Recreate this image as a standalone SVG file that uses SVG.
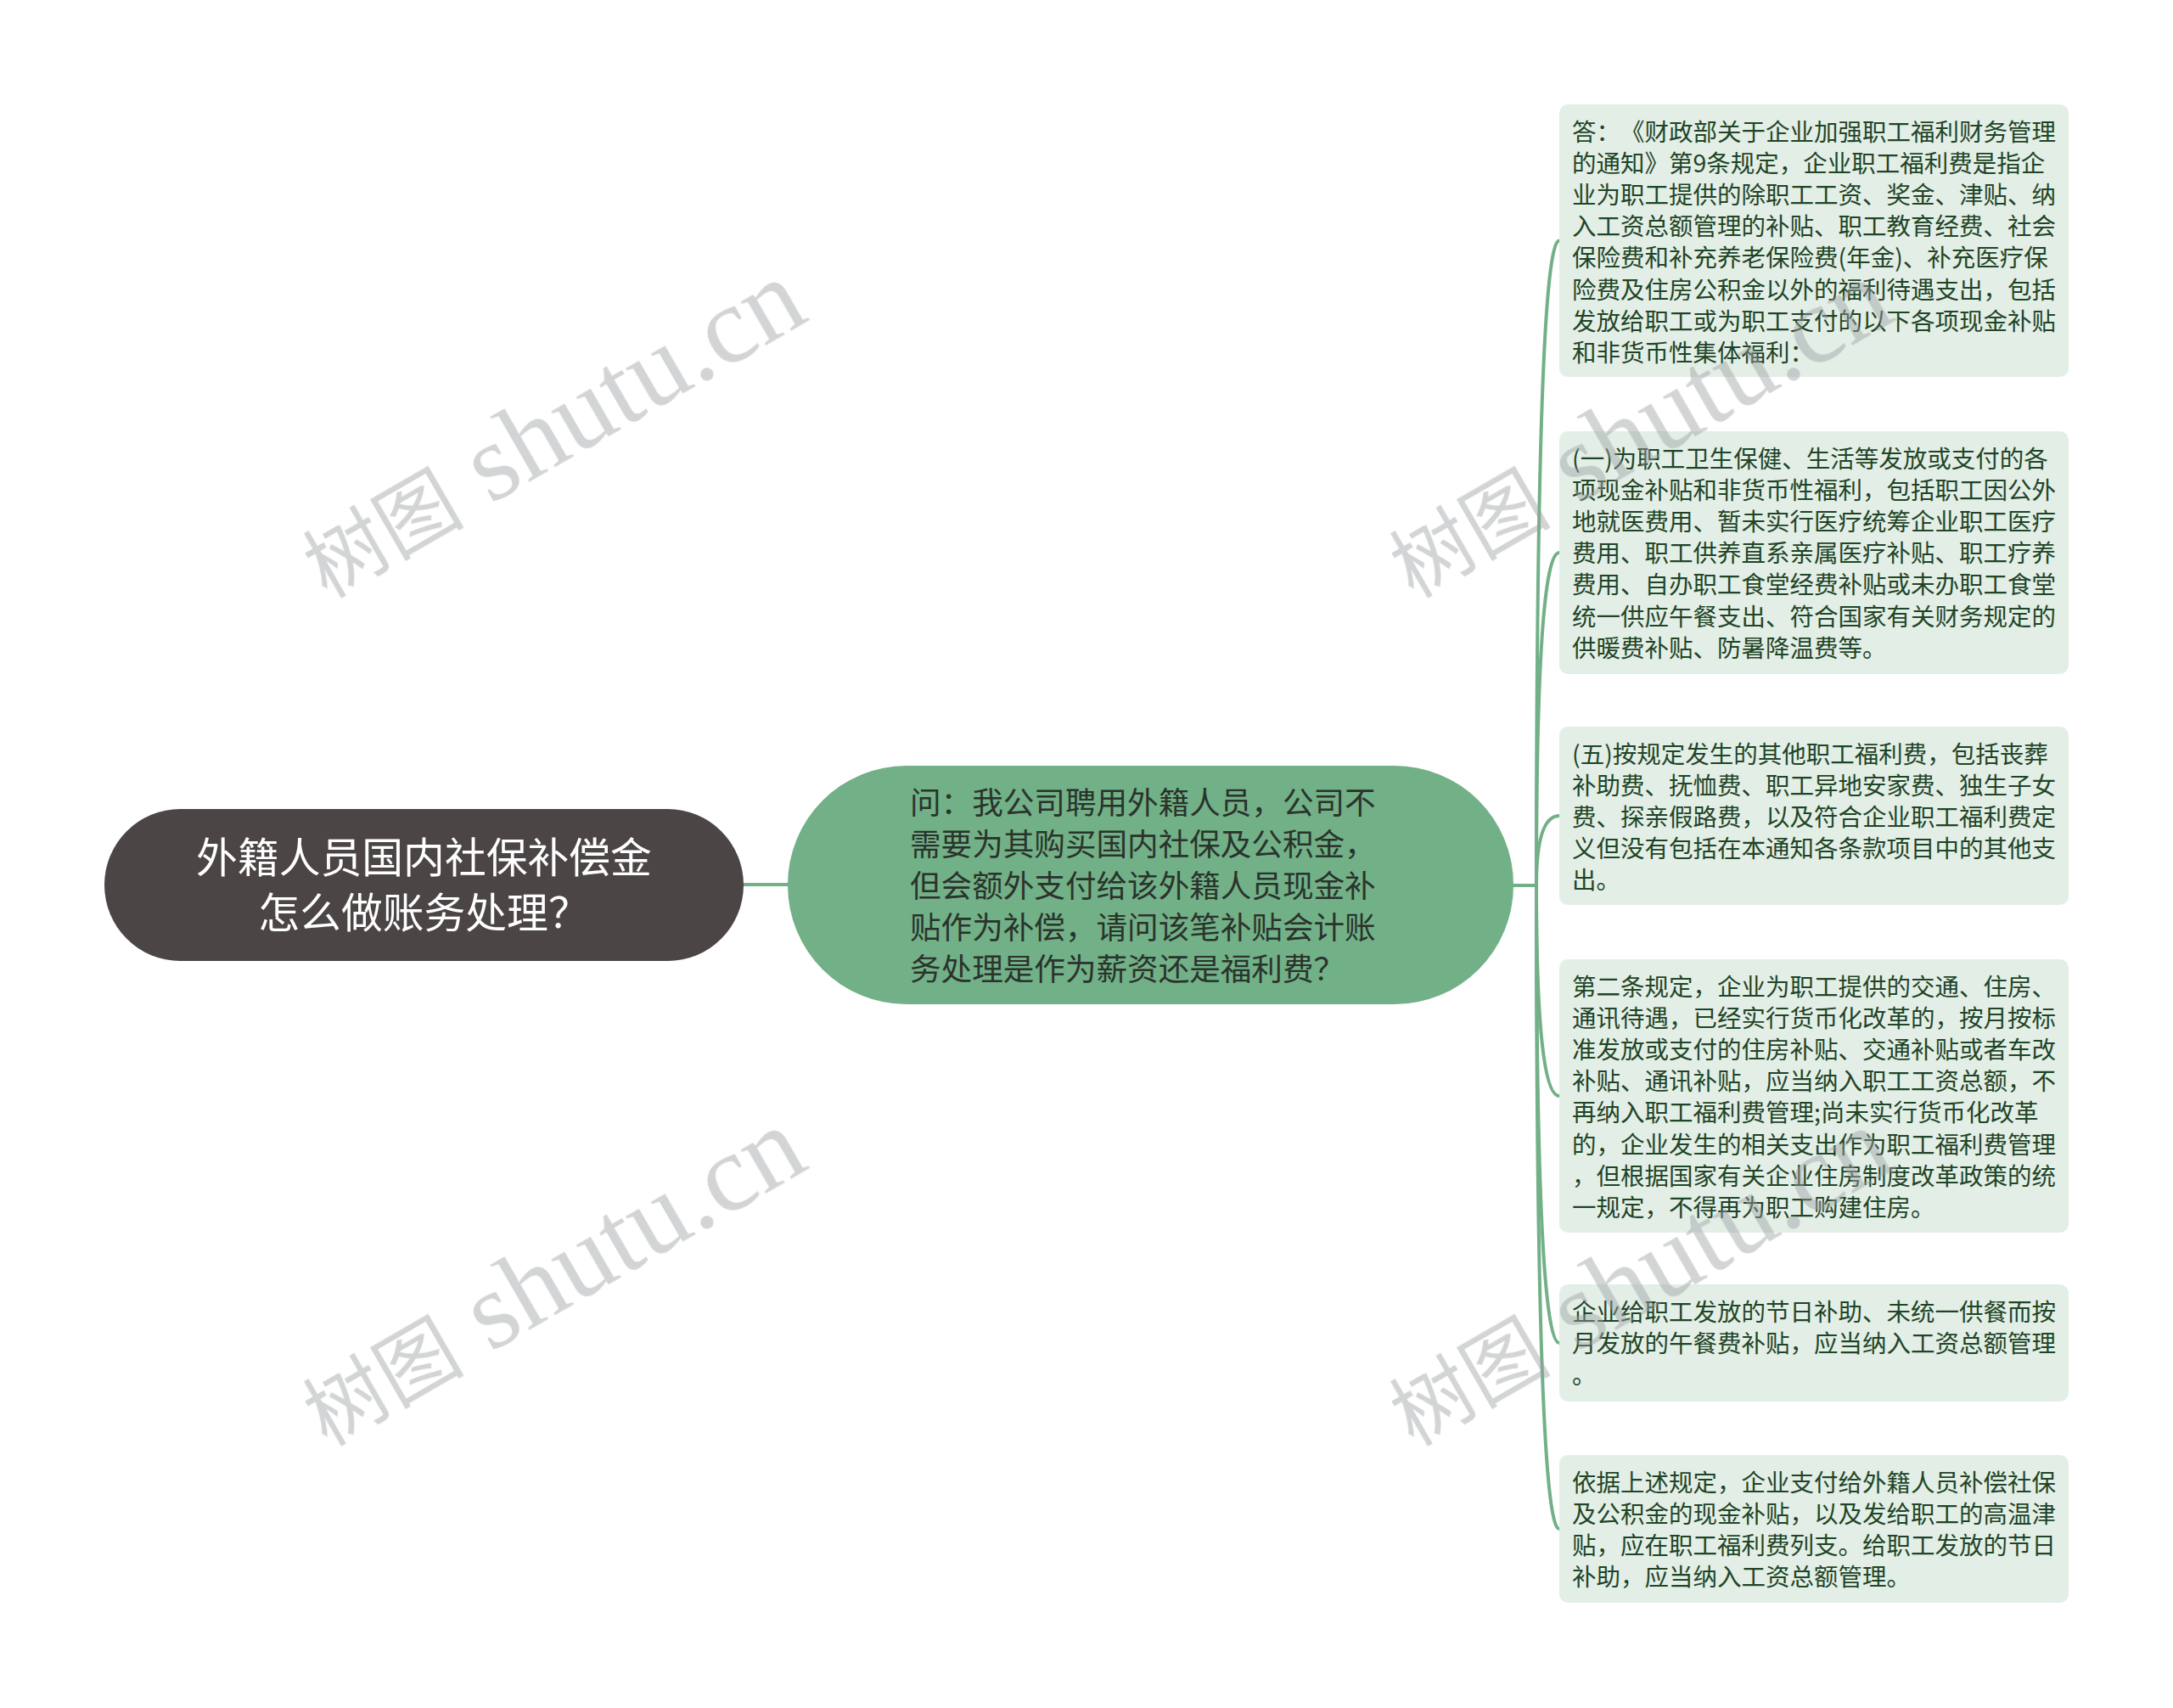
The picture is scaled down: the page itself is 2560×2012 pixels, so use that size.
<svg xmlns="http://www.w3.org/2000/svg" width="2560" height="2012" viewBox="0 0 2560 2012">
<style>
text{text-spacing-trim:space-all}
.bg{fill:#ffffff}
.conn{fill:none;stroke:#72b087;stroke-width:4;stroke-linecap:round}
.root-shape{fill:#4b4545}
.root-text{font-family:"Noto Sans CJK SC","Noto Sans",sans-serif;font-size:48.8px;fill:#ffffff;text-anchor:middle}
.q-shape{fill:#72b087}
.q-text{font-family:"Noto Sans CJK SC","Noto Sans",sans-serif;font-size:36.6px;fill:#2a332c}
.box{fill:#e3eee6}
.box-text{font-family:"Noto Sans CJK SC","Noto Sans",sans-serif;font-size:28.5px;fill:#1f4527}
.wm{fill:#9aa0a3;opacity:0.45}
.wm-cjk{font-family:"Noto Sans CJK SC",sans-serif;font-size:95px}
.wm-lat{font-family:"Liberation Serif",serif;font-size:130px}
</style>
<rect class="bg" x="0" y="0" width="2560" height="2012"/>

<g id="connectors">
  <path class="conn" d="M875 1042 H930"/>
  <path class="conn" d="M1781 1043 H1810"/>
  <path class="conn" d="M1810 1043 Q1810 283.5 1837 283.5"/>
  <path class="conn" d="M1810 1043 Q1810 651 1837 651"/>
  <path class="conn" d="M1810 1043 Q1810 961 1837 961"/>
  <path class="conn" d="M1810 1043 Q1810 1291 1837 1291"/>
  <path class="conn" d="M1810 1043 Q1810 1582 1837 1582"/>
  <path class="conn" d="M1810 1043 Q1810 1801 1837 1801"/>
</g>

<g id="root">
  <rect class="root-shape" x="123" y="953" width="753" height="179" rx="89.5" ry="89.5"/>
  <text class="root-text" x="499.5" y="1028">外籍人员国内社保补偿金</text>
  <text class="root-text" x="499.5" y="1093">怎么做账务处理？</text>
</g>

<g id="question">
  <rect class="q-shape" x="928" y="902" width="855" height="281" rx="140" ry="140"/>
  <text class="q-text" x="1072" y="959">问：我公司聘用外籍人员，公司不</text>
  <text class="q-text" x="1072" y="1008">需要为其购买国内社保及公积金，</text>
  <text class="q-text" x="1072" y="1057">但会额外支付给该外籍人员现金补</text>
  <text class="q-text" x="1072" y="1106">贴作为补偿，请问该笔补贴会计账</text>
  <text class="q-text" x="1072" y="1155">务处理是作为薪资还是福利费？</text>
</g>

<g id="box1">
  <rect class="box" x="1837" y="123" width="600" height="321" rx="10"/>
  <text class="box-text" x="1852" y="166">答：《财政部关于企业加强职工福利财务管理</text>
  <text class="box-text" x="1852" y="203.1">的通知》第9条规定，企业职工福利费是指企</text>
  <text class="box-text" x="1852" y="240.2">业为职工提供的除职工工资、奖金、津贴、纳</text>
  <text class="box-text" x="1852" y="277.3">入工资总额管理的补贴、职工教育经费、社会</text>
  <text class="box-text" x="1852" y="314.4">保险费和补充养老保险费(年金)、补充医疗保</text>
  <text class="box-text" x="1852" y="351.5">险费及住房公积金以外的福利待遇支出，包括</text>
  <text class="box-text" x="1852" y="388.6">发放给职工或为职工支付的以下各项现金补贴</text>
  <text class="box-text" x="1852" y="425.7">和非货币性集体福利：</text>
</g>

<g id="box2">
  <rect class="box" x="1837" y="508" width="600" height="286" rx="10"/>
  <text class="box-text" x="1852" y="551">(一)为职工卫生保健、生活等发放或支付的各</text>
  <text class="box-text" x="1852" y="588.1">项现金补贴和非货币性福利，包括职工因公外</text>
  <text class="box-text" x="1852" y="625.2">地就医费用、暂未实行医疗统筹企业职工医疗</text>
  <text class="box-text" x="1852" y="662.3">费用、职工供养直系亲属医疗补贴、职工疗养</text>
  <text class="box-text" x="1852" y="699.4">费用、自办职工食堂经费补贴或未办职工食堂</text>
  <text class="box-text" x="1852" y="736.5">统一供应午餐支出、符合国家有关财务规定的</text>
  <text class="box-text" x="1852" y="773.6">供暖费补贴、防暑降温费等。</text>
</g>

<g id="box3">
  <rect class="box" x="1837" y="856" width="600" height="210" rx="10"/>
  <text class="box-text" x="1852" y="899">(五)按规定发生的其他职工福利费，包括丧葬</text>
  <text class="box-text" x="1852" y="936.1">补助费、抚恤费、职工异地安家费、独生子女</text>
  <text class="box-text" x="1852" y="973.2">费、探亲假路费，以及符合企业职工福利费定</text>
  <text class="box-text" x="1852" y="1010.3">义但没有包括在本通知各条款项目中的其他支</text>
  <text class="box-text" x="1852" y="1047.4">出。</text>
</g>

<g id="box4">
  <rect class="box" x="1837" y="1130" width="600" height="322" rx="10"/>
  <text class="box-text" x="1852" y="1173">第二条规定，企业为职工提供的交通、住房、</text>
  <text class="box-text" x="1852" y="1210.1">通讯待遇，已经实行货币化改革的，按月按标</text>
  <text class="box-text" x="1852" y="1247.2">准发放或支付的住房补贴、交通补贴或者车改</text>
  <text class="box-text" x="1852" y="1284.3">补贴、通讯补贴，应当纳入职工工资总额，不</text>
  <text class="box-text" x="1852" y="1321.4">再纳入职工福利费管理;尚未实行货币化改革</text>
  <text class="box-text" x="1852" y="1358.5">的，企业发生的相关支出作为职工福利费管理</text>
  <text class="box-text" x="1852" y="1395.6">，但根据国家有关企业住房制度改革政策的统</text>
  <text class="box-text" x="1852" y="1432.7">一规定，不得再为职工购建住房。</text>
</g>

<g id="box5">
  <rect class="box" x="1837" y="1513" width="600" height="138" rx="10"/>
  <text class="box-text" x="1852" y="1556">企业给职工发放的节日补助、未统一供餐而按</text>
  <text class="box-text" x="1852" y="1593.1">月发放的午餐费补贴，应当纳入工资总额管理</text>
  <text class="box-text" x="1852" y="1630.2">。</text>
</g>

<g id="box6">
  <rect class="box" x="1837" y="1714" width="600" height="174" rx="10"/>
  <text class="box-text" x="1852" y="1757">依据上述规定，企业支付给外籍人员补偿社保</text>
  <text class="box-text" x="1852" y="1794.1">及公积金的现金补贴，以及发给职工的高温津</text>
  <text class="box-text" x="1852" y="1831.2">贴，应在职工福利费列支。给职工发放的节日</text>
  <text class="box-text" x="1852" y="1868.3">补助，应当纳入工资总额管理。</text>
</g>

<g id="watermarks" class="wm">
  <text transform="translate(385 706) rotate(-30)"><tspan class="wm-cjk">树图</tspan><tspan class="wm-lat"> shutu.cn</tspan></text>
  <text transform="translate(1665 706) rotate(-30)"><tspan class="wm-cjk">树图</tspan><tspan class="wm-lat"> shutu.cn</tspan></text>
  <text transform="translate(385 1705) rotate(-30)"><tspan class="wm-cjk">树图</tspan><tspan class="wm-lat"> shutu.cn</tspan></text>
  <text transform="translate(1665 1705) rotate(-30)"><tspan class="wm-cjk">树图</tspan><tspan class="wm-lat"> shutu.cn</tspan></text>
</g>
</svg>
